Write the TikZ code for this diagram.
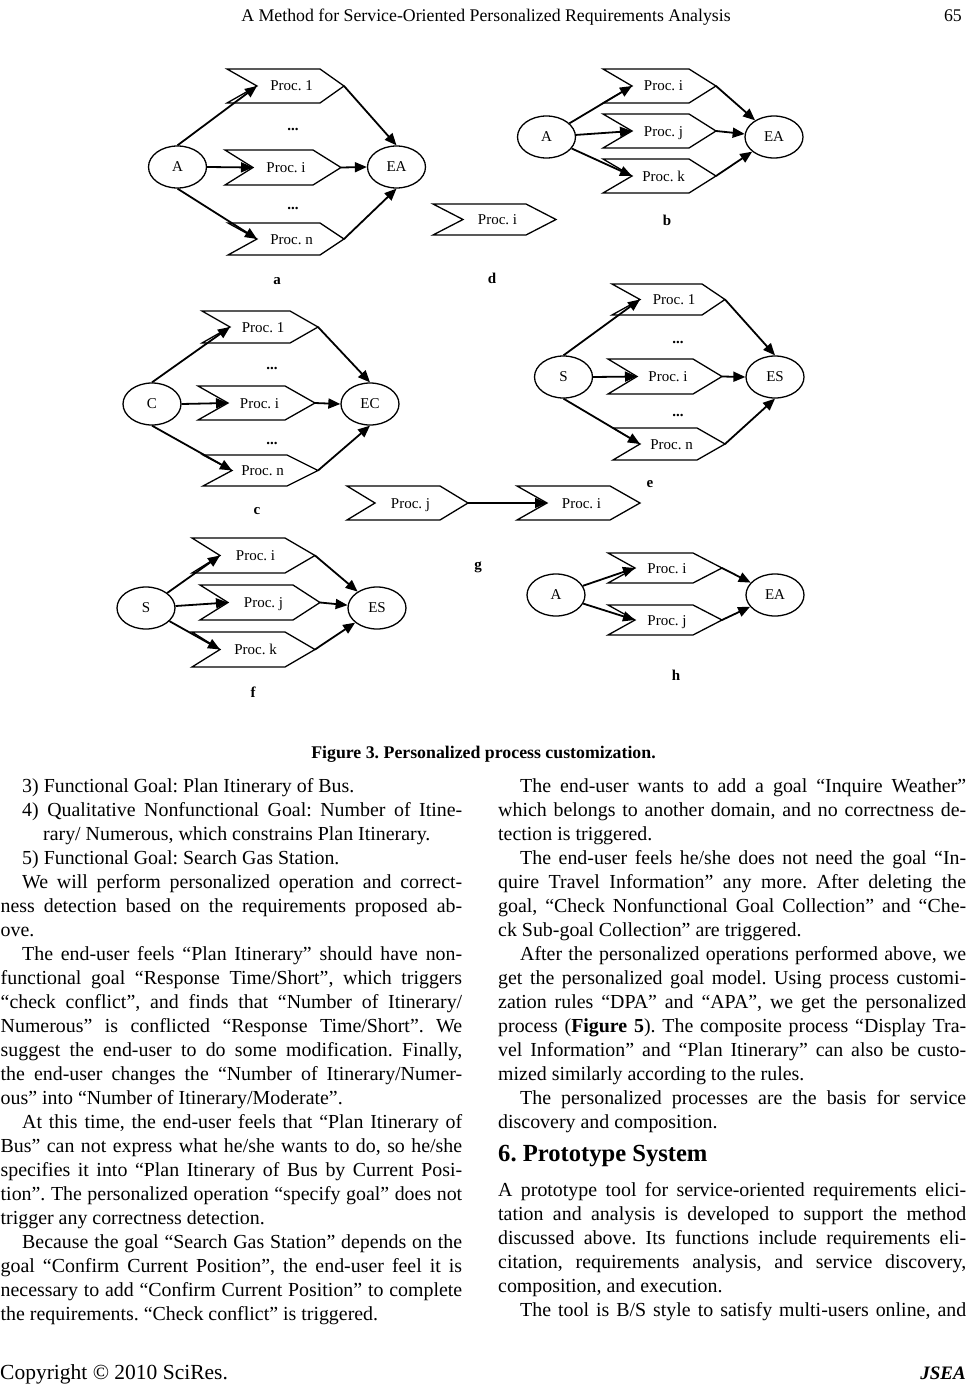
\documentclass[tikz,border=0pt]{standalone}
\usepackage{fontspec}
\setmainfont{Liberation Serif}
\usetikzlibrary{shapes.geometric,arrows.meta}
\tikzset{
  arr/.style={line width=1.8pt, -{Triangle[length=12pt,width=10pt]}},
  procline/.style={line width=1.3pt, line join=miter},
  proctext/.style={font=\fontsize{15}{18}\selectfont, inner sep=0pt, anchor=base},
  ell/.style={ellipse, draw, line width=1.3pt, minimum width=58pt, minimum height=42pt, inner sep=0pt, font=\fontsize{15}{18}\selectfont},
  lab/.style={font=\bfseries\fontsize{15}{18}\selectfont, anchor=base, inner sep=0pt},
  dots/.style={font=\bfseries\fontsize{15}{18}\selectfont, anchor=base, inner sep=0pt},
  body/.style={font=\fontsize{19.9}{24}\selectfont, anchor=base west, inner sep=0pt},
}
\newcommand\chev[8]{%
  \draw[procline] (#2,#6) -- (#4,#6) -- (#5,{(#6+#7)/2}) -- (#4,#7) -- (#2,#7) -- (#3,{(#6+#7)/2}) -- cycle;
  \coordinate (#1-in) at (#3,{(#6+#7)/2});
  \coordinate (#1-out) at (#5,{(#6+#7)/2});
  \node[proctext] (#1) at ({(#3+#4)/2+3},{(#6+#7)/2+5}) {#8};
}
\newcommand\jl[5]{\node[body] (#1) at (#2,#3) {\makebox[#4pt][s]{#5}};}
\newcommand\pl[4]{\node[body] (#1) at (#2,#3) {#4};}
\begin{document}
\frenchspacing
\begin{tikzpicture}[x=1pt,y=-1pt]
\fill[white] (0,0) rectangle (966,1386);
\useasboundingbox (0,0) rectangle (966,1386);

% header
\node[font=\fontsize{17.8}{22}\selectfont, anchor=base, inner sep=0pt] (hdr) at (486,22) {A Method for Service-Oriented Personalized Requirements Analysis};
\node[font=\fontsize{17.8}{22}\selectfont, anchor=base east, inner sep=0pt] (pgno) at (962,22) {65};

% ---- a ----
\node[ell] (aA) at (177.5,167) {A};
\node[ell] (aEA) at (396.5,167) {EA};
\chev{a1}{227}{257}{320}{344}{69}{103}{Proc. 1}
\chev{ai}{225}{253}{313}{341}{150}{185}{Proc. i}
\chev{an}{228}{257}{320}{344}{223}{255}{Proc. n}
\node[dots] (ad1) at (293,131) {...};
\node[dots] (ad2) at (293,209) {...};
\draw[arr] (aA.north) -- (a1-in);
\draw[arr] (aA.east) -- (ai-in);
\draw[arr] (aA.south) -- (an-in);
\draw[arr] (a1-out) -- (aEA.north);
\draw[arr] (ai-out) -- (aEA.west);
\draw[arr] (an-out) -- (aEA.south);
\node[lab] (la) at (277,284) {a};

% ---- b ----
\node[ell] (bA) at (546.5,137) {A};
\node[ell] (bEA) at (774,137) {EA};
\chev{bi}{603}{632}{689}{716}{69}{103}{Proc. i}
\chev{bj}{603}{632}{689}{716}{114}{148}{Proc. j}
\chev{bk}{603}{632}{689}{716}{159}{193}{Proc. k}
\draw[arr] (bA) -- (bi-in);
\draw[arr] (bA) -- (bj-in);
\draw[arr] (bA) -- (bk-in);
\draw[arr] (bi-out) -- (bEA);
\draw[arr] (bj-out) -- (bEA);
\draw[arr] (bk-out) -- (bEA);
\node[lab] (lb) at (667,225) {b};

% ---- d ----
\chev{di}{433}{463}{526}{556}{204}{235}{Proc. i}
\node[lab] (ld) at (492,283) {d};

% ---- c ----
\node[ell] (cC) at (152,404) {C};
\node[ell] (cEC) at (370,404) {EC};
\chev{c1}{202}{230}{290}{318}{311}{343}{Proc. 1}
\chev{ci}{198}{228}{285}{315}{386}{420}{Proc. i}
\chev{cn}{203}{232}{287}{318}{455}{486}{Proc. n}
\node[dots] (cd1) at (272,369) {...};
\node[dots] (cd2) at (272,444) {...};
\draw[arr] (cC.north) -- (c1-in);
\draw[arr] (cC.east) -- (ci-in);
\draw[arr] (cC.south) -- (cn-in);
\draw[arr] (c1-out) -- (cEC.north);
\draw[arr] (ci-out) -- (cEC.west);
\draw[arr] (cn-out) -- (cEC.south);
\node[lab] (lc) at (257,514) {c};

% ---- e ----
\node[ell] (eS) at (563.5,377) {S};
\node[ell] (eES) at (775,377) {ES};
\chev{e1}{612}{640}{702}{725}{284}{315}{Proc. 1}
\chev{ei}{608}{637}{693}{722}{359}{394}{Proc. i}
\chev{en}{613}{640}{697}{725}{428}{460}{Proc. n}
\node[dots] (ed1) at (678,343) {...};
\node[dots] (ed2) at (678,416) {...};
\draw[arr] (eS.north) -- (e1-in);
\draw[arr] (eS.east) -- (ei-in);
\draw[arr] (eS.south) -- (en-in);
\draw[arr] (e1-out) -- (eES.north);
\draw[arr] (ei-out) -- (eES.west);
\draw[arr] (en-out) -- (eES.south);
\node[lab] (le) at (650,487) {e};

% ---- g ----
\chev{gj}{347}{375}{440}{468}{486}{520}{Proc. j}
\chev{gi}{517}{547}{610}{640}{486}{520}{Proc. i}
\draw[arr] (gj-out) -- (gi-in);
\node[lab] (lg) at (478,569) {g};

% ---- f ----
\node[ell] (fS) at (146,608) {S};
\node[ell] (fES) at (377,608) {ES};
\chev{fi}{192}{220}{285}{315}{538}{573}{Proc. i}
\chev{fj}{200}{228}{293}{320}{585}{620}{Proc. j}
\chev{fk}{192}{220}{285}{315}{632}{667}{Proc. k}
\draw[arr] (fS) -- (fi-in);
\draw[arr] (fS) -- (fj-in);
\draw[arr] (fS) -- (fk-in);
\draw[arr] (fi-out) -- (fES);
\draw[arr] (fj-out) -- (fES);
\draw[arr] (fk-out) -- (fES);
\node[lab] (lf) at (253,697) {f};

% ---- h ----
\node[ell] (hA) at (556,595) {A};
\node[ell] (hEA) at (775,595) {EA};
\chev{hi}{608}{635}{693}{722}{553}{583}{Proc. i}
\chev{hj}{608}{635}{693}{722}{605}{635}{Proc. j}
\draw[arr] (hA) -- (hi-in);
\draw[arr] (hA) -- (hj-in);
\draw[arr] (hi-out) -- (hEA);
\draw[arr] (hj-out) -- (hEA);
\node[lab] (lh) at (676,680) {h};

% caption
\node[font=\bfseries\fontsize{17.8}{22}\selectfont, anchor=base, inner sep=0pt] (cap) at (483.5,758) {Figure 3. Personalized process customization.};

% left column
\pl{L1}{22}{792}{3) Functional Goal: Plan Itinerary of Bus.}
\jl{L2}{22}{816}{440}{4) Qualitative Nonfunctional Goal: Number of Itine-}
\pl{L3}{43}{840}{rary/ Numerous, which constrains Plan Itinerary.}
\pl{L4}{22}{864}{5) Functional Goal: Search Gas Station.}
\jl{L5}{22}{888}{440}{We will perform personalized operation and correct-}
\jl{L6}{0.5}{912}{461.5}{ness detection based on the requirements proposed ab-}
\pl{L7}{0.5}{936}{ove.}
\jl{L8}{22}{960}{440}{The end-user feels “Plan Itinerary” should have non-}
\jl{L9}{0.5}{984}{461.5}{functional goal “Response Time/Short”, which triggers}
\jl{L10}{0.5}{1008}{461.5}{“check conflict”, and finds that “Number of Itinerary/}
\jl{L11}{0.5}{1032}{461.5}{Numerous” is conflicted “Response Time/Short”. We}
\jl{L12}{0.5}{1056}{461.5}{suggest the end-user to do some modification. Finally,}
\jl{L13}{0.5}{1080}{461.5}{the end-user changes the “Number of Itinerary/Numer-}
\pl{L14}{0.5}{1104}{ous” into “Number of Itinerary/Moderate”.}
\jl{L15}{22}{1128}{440}{At this time, the end-user feels that “Plan Itinerary of}
\jl{L16}{0.5}{1152}{461.5}{Bus” can not express what he/she wants to do, so he/she}
\jl{L17}{0.5}{1176}{461.5}{specifies it into “Plan Itinerary of Bus by Current Posi-}
\jl{L18}{0.5}{1200}{461.5}{tion”. The personalized operation “specify goal” does not}
\pl{L19}{0.5}{1224}{trigger any correctness detection.}
\jl{L20}{22}{1248}{440}{Because the goal “Search Gas Station” depends on the}
\jl{L21}{0.5}{1272}{461.5}{goal “Confirm Current Position”, the end-user feel it is}
\jl{L22}{0.5}{1296}{461.5}{necessary to add “Confirm Current Position” to complete}
\pl{L23}{0.5}{1320}{the requirements. “Check conflict” is triggered.}

% right column
\jl{R1}{520}{792}{446}{The end-user wants to add a goal “Inquire Weather”}
\jl{R2}{498}{816}{468}{which belongs to another domain, and no correctness de-}
\pl{R3}{498}{840}{tection is triggered.}
\jl{R4}{520}{864}{446}{The end-user feels he/she does not need the goal “In-}
\jl{R5}{498}{888}{468}{quire Travel Information” any more. After deleting the}
\jl{R6}{498}{912}{468}{goal, “Check Nonfunctional Goal Collection” and “Che-}
\pl{R7}{498}{936}{ck Sub-goal Collection” are triggered.}
\jl{R8}{520}{960}{446}{After the personalized operations performed above, we}
\jl{R9}{498}{984}{468}{get the personalized goal model. Using process customi-}
\jl{R10}{498}{1008}{468}{zation rules “DPA” and “APA”, we get the personalized}
\jl{R11}{498}{1032}{468}{process (\textbf{Figure 5}). The composite process “Display Tra-}
\jl{R12}{498}{1056}{468}{vel Information” and “Plan Itinerary” can also be custo-}
\pl{R13}{498}{1080}{mized similarly according to the rules.}
\jl{R14}{520}{1104}{446}{The personalized processes are the basis for service}
\pl{R15}{498}{1128}{discovery and composition.}
\node[font=\bfseries\fontsize{24.6}{28}\selectfont, anchor=base west, inner sep=0pt] (sec) at (498,1161) {6. Prototype System};
\jl{R16}{498}{1196}{468}{A prototype tool for service-oriented requirements elici-}
\jl{R17}{498}{1220}{468}{tation and analysis is developed to support the method}
\jl{R18}{498}{1244}{468}{discussed above. Its functions include requirements eli-}
\jl{R19}{498}{1268}{468}{citation, requirements analysis, and service discovery,}
\pl{R20}{498}{1292}{composition, and execution.}
\jl{R21}{520}{1316}{446}{The tool is B/S style to satisfy multi-users online, and}

% footer
\node[font=\fontsize{21.5}{24}\selectfont, anchor=base west, inner sep=0pt] (copy) at (0,1379) {Copyright © 2010 SciRes.};
\node[font=\bfseries\itshape\fontsize{19}{22}\selectfont, anchor=base east, inner sep=0pt] (jsea) at (966,1379) {JSEA};
\end{tikzpicture}
\end{document}
